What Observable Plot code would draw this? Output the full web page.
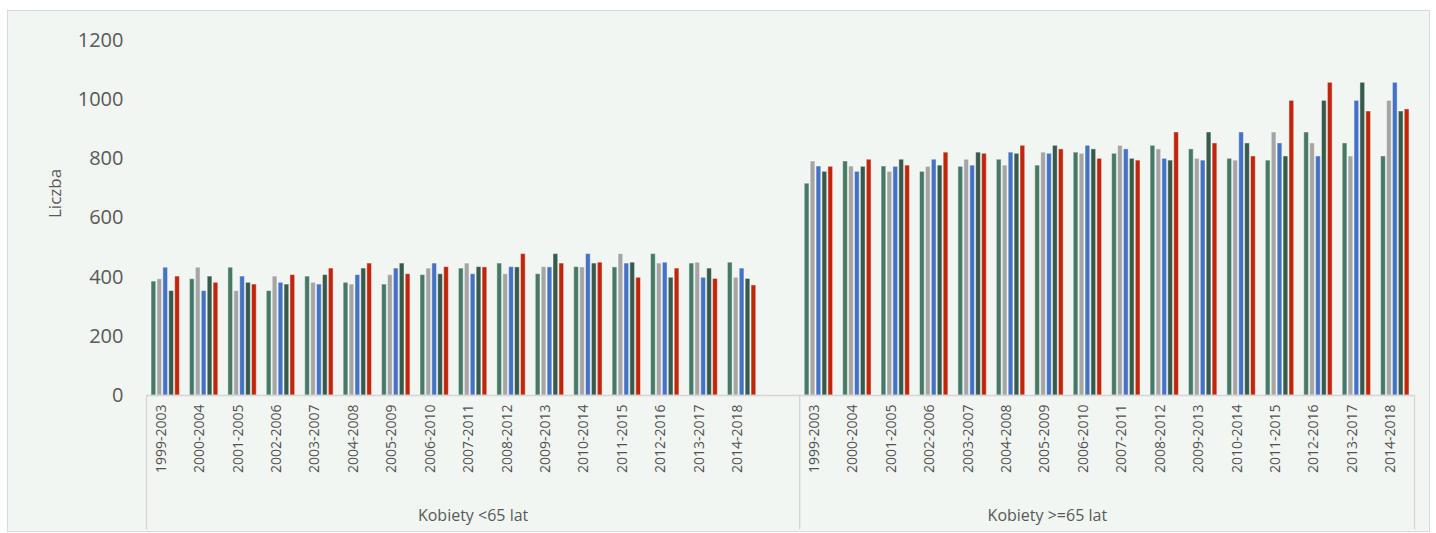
<!DOCTYPE html>
<html>
<head>
<meta charset="utf-8">
<script src="https://cdn.jsdelivr.net/npm/d3@7"></script>
<script src="https://cdn.jsdelivr.net/npm/@observablehq/plot@0.6"></script>
<style>
  html, body { margin: 0; padding: 0; background: #ffffff; }
  #frame { position: absolute; left: 7px; top: 10px; width: 1423px; height: 522px; box-sizing: border-box;
           border: 1px solid #d9d9d9; background: #f2f6f3; }
  #chart { position: absolute; left: 0; top: 0; }
</style>
</head>
<body>
<div id="frame"></div>
<div id="chart"></div>
<script>
// ---- data ----
const periods = ["1999-2003","2000-2004","2001-2005","2002-2006","2003-2007","2004-2008","2005-2009","2006-2010",
                 "2007-2011","2008-2012","2009-2013","2010-2014","2011-2015","2012-2016","2013-2017","2014-2018"];
const groups = ["Kobiety <65 lat", "Kobiety >=65 lat"];
const seriesNames = ["Rok 1", "Rok 2", "Rok 3", "Rok 4", "Rok 5"];
const seriesColors = ["#477a66", "#a5a5a5", "#4472c4", "#365a4b", "#c0260b"];
const yTicks = [0, 200, 400, 600, 800, 1000, 1200];
const yLabel = "Liczba";

// Kobiety <65 lat
const young1 = [385,393,432,353,402,381,375,407,429,446,410,434,433,478,446,449];
const young2 = [393,432,353,402,381,375,407,429,446,410,434,433,478,446,449,398];
const young3 = [432,353,402,381,375,407,429,446,410,434,433,478,446,449,398,429];
const young4 = [353,402,381,375,407,429,446,410,434,433,478,446,449,398,429,394];
const young5 = [402,381,375,407,429,446,410,434,433,478,446,449,398,429,394,372];
// Kobiety >=65 lat
const old1 = [716,791,774,756,773,797,777,821,817,844,832,800,794,889,852,808];
const old2 = [791,774,756,773,797,777,821,817,844,832,800,794,889,852,808,996];
const old3 = [774,756,773,797,777,821,817,844,832,800,794,889,852,808,996,1057];
const old4 = [756,773,797,777,821,817,844,832,800,794,889,852,808,996,1057,960];
const old5 = [773,797,777,821,817,844,832,800,794,889,852,808,996,1057,960,967];

// ---- build table ----
const groupSeries = [[young1, young2, young3, young4, young5], [old1, old2, old3, old4, old5]];
const keyOf = (g, p) => g + "|" + p;
const gapKey = "gap";
const fxDomain = [...periods.map(p => keyOf(0, p)), gapKey, ...periods.map(p => keyOf(1, p))];
const rows = [];
groupSeries.forEach((ser, g) => ser.forEach((vals, k) => vals.forEach((v, i) =>
  rows.push({key: keyOf(g, periods[i]), series: seriesNames[k], value: v}))));
const tickRows = [0, 1].flatMap(g => periods.map(p => ({key: keyOf(g, p), label: p})));

// ---- layout ----
const W = 1436, H = 533;
const mTop = 40, mBottom = 138, mLeft = 146, mRight = 22;
const innerH = H - mTop - mBottom;
const font = "'Open Sans', sans-serif";
const sepStyle = {stroke: "#d4d4d4", strokeWidth: 1.3, insetTop: innerH, insetBottom: -133};
const firstKey = () => fxDomain[0];

const chart = Plot.plot({
  width: W, height: H,
  marginTop: mTop, marginBottom: mBottom, marginLeft: mLeft, marginRight: mRight,
  style: {background: "transparent", fontFamily: font},
  fx: {domain: fxDomain, padding: 0, round: false, axis: null},
  x: {domain: seriesNames, paddingInner: 0.2, paddingOuter: 0.85, round: false, axis: null},
  y: {domain: [0, 1200], axis: null},
  color: {domain: seriesNames, range: seriesColors},
  marks: [
    Plot.barY(rows, {fx: "key", x: "series", y: "value", fill: "series",
                     stroke: "#ffffff", strokeOpacity: 0.45, strokeWidth: 1}),
    Plot.ruleY(fxDomain, {fx: d => d, y: () => 0, stroke: "#d4d4d4", strokeWidth: 1.5}),
    Plot.text(yTicks, {fx: firstKey, y: d => d, text: d => String(d), frameAnchor: "left", dx: -23,
                       textAnchor: "end", fontSize: 20, fill: "#595959"}),
    Plot.text([yLabel], {fx: firstKey, text: d => d, frameAnchor: "left", dx: -91,
                         rotate: -90, fontSize: 17, fill: "#595959"}),
    Plot.text(tickRows, {fx: "key", text: "label", frameAnchor: "bottom", dy: 9, rotate: -90,
                         textAnchor: "end", fontSize: 14, fill: "#505050"}),
    Plot.text([groups[0]], {fx: () => keyOf(0, periods[8]), text: d => d, frameAnchor: "bottom",
                            dy: 125, fontSize: 16, fill: "#595959"}),
    Plot.text([groups[1]], {fx: () => keyOf(1, periods[7]), text: d => d, frameAnchor: "bottom-right",
                            dy: 125, fontSize: 16, fill: "#595959"}),
    Plot.frame({fx: () => keyOf(0, periods[0]), anchor: "left", ...sepStyle}),
    Plot.frame({fx: () => keyOf(1, periods[0]), anchor: "left", ...sepStyle}),
    Plot.frame({fx: () => keyOf(1, periods[15]), anchor: "right", ...sepStyle})
  ]
});
document.getElementById("chart").appendChild(chart);
</script>
</body>
</html>
